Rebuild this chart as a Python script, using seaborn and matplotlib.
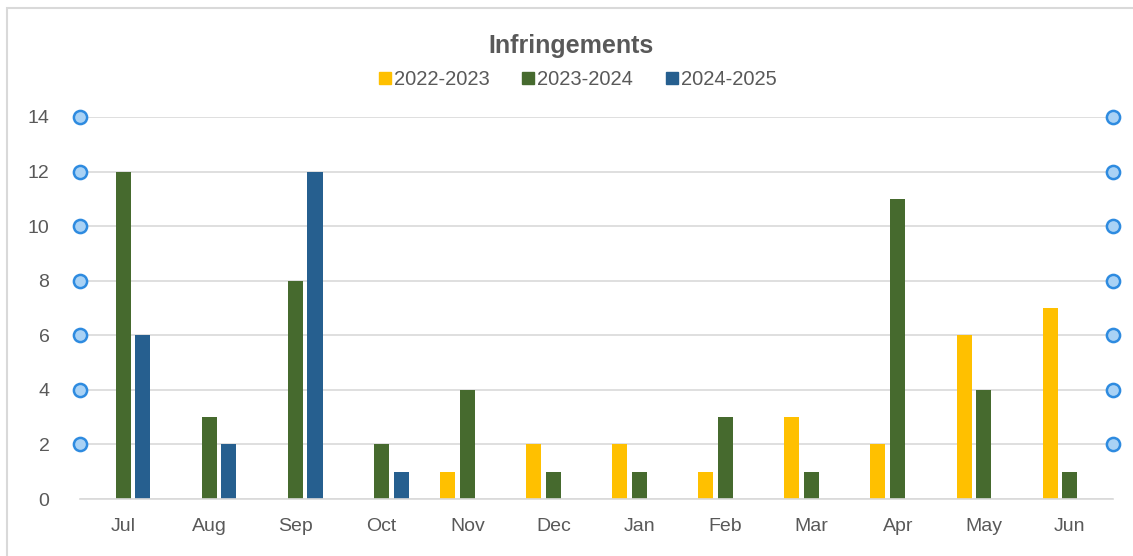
import matplotlib
matplotlib.use("Agg")
import matplotlib.pyplot as plt
import seaborn as sns
import pandas as pd
from matplotlib.patches import Rectangle

# Dados do gráfico
meses = ["Jul", "Aug", "Sep", "Oct", "Nov", "Dec", "Jan", "Feb", "Mar", "Apr", "May", "Jun"]
anos = ["2022-2023", "2023-2024", "2024-2025"]
v_2022_2023 = [0, 0, 0, 0, 1, 2, 2, 1, 3, 2, 6, 7]
v_2023_2024 = [12, 3, 8, 2, 4, 1, 1, 3, 1, 11, 4, 1]
v_2024_2025 = [6, 2, 12, 1, 0, 0, 0, 0, 0, 0, 0, 0]
ticks_y = [0, 2, 4, 6, 8, 10, 12, 14]

cores = ["#FFC000", "#466A2E", "#265F8F"]
cinza = "#595959"

df = pd.DataFrame({
    "Mes": meses * 3,
    "Ano": [anos[0]] * 12 + [anos[1]] * 12 + [anos[2]] * 12,
    "Valor": v_2022_2023 + v_2023_2024 + v_2024_2025,
})

sns.set_style("white")
plt.rcParams["font.family"] = ["Liberation Sans", "DejaVu Sans"]

fig = plt.figure(figsize=(11.33, 5.56), dpi=100)
ax = fig.add_axes([0.0706, 0.1025, 0.9117, 0.6871])

sns.barplot(data=df, x="Mes", y="Valor", hue="Ano", order=meses, hue_order=anos,
            palette=cores, width=0.69, gap=0.24, saturation=1, linewidth=0,
            ax=ax, legend=False)

ax.set_xlim(-0.5, len(meses) - 0.5)
ax.set_ylim(0, 14)
ax.set_yticks(ticks_y)
ax.yaxis.grid(True, color="#D9D9D9", linewidth=1.2)
ax.set_axisbelow(True)
for s in ["top", "right", "left"]:
    ax.spines[s].set_visible(False)
ax.spines["bottom"].set_color("#D9D9D9")
ax.spines["bottom"].set_linewidth(1.2)
ax.tick_params(axis="both", length=0, labelsize=14, labelcolor=cinza)
ax.tick_params(axis="y", pad=22)
ax.tick_params(axis="x", pad=14)
ax.set_xlabel("")
ax.set_ylabel("")

# Marcadores circulares nas linhas de grade (esquerda e direita)
for xm in ax.get_xlim():
    ax.plot([xm] * (len(ticks_y) - 1), ticks_y[1:], "o", ms=9.5, mfc="#A9D2F5",
            mec="#2E8BE0", mew=1.8, clip_on=False, zorder=5)

# Legenda
handles = [plt.Line2D([], [], marker="s", ls="", ms=8, color=c) for c in cores]
fig.legend(handles, anos, loc="center", bbox_to_anchor=(0.51, 0.857), ncol=3,
           frameon=False, fontsize=14.5, labelcolor=cinza, handlelength=0.6,
           handletextpad=0.15, columnspacing=1.6)

fig.text(0.504, 0.918, "Infringements", ha="center", va="center", fontsize=18,
         fontweight="bold", color=cinza)

# Moldura do gráfico
fig.patches.append(Rectangle((7 / 1133, -0.1), 1.2, 0.1 + 1 - 8 / 556,
                             transform=fig.transFigure, fill=False,
                             edgecolor="#D9D9D9", linewidth=1.5))

fig.savefig("out.png", dpi=100)
